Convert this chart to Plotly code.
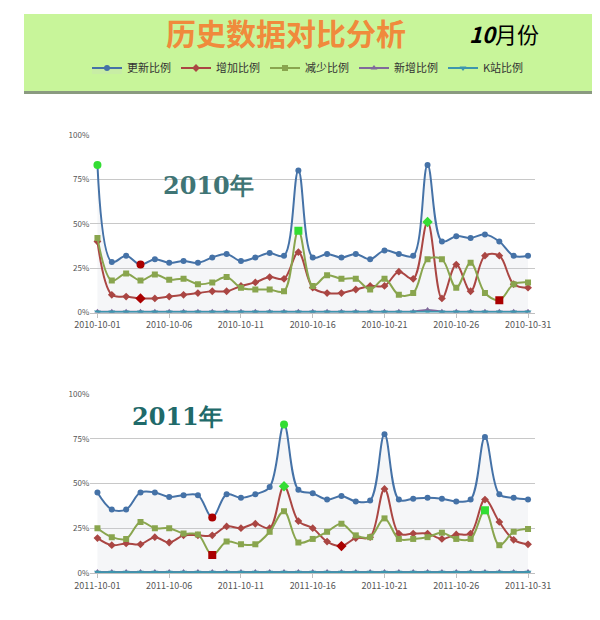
import plotly.graph_objects as go
import pandas as pd

dates10 = pd.date_range("2010-10-01", "2010-10-31").strftime("%Y-%m-%d").tolist()
dates11 = pd.date_range("2011-10-01", "2011-10-31").strftime("%Y-%m-%d").tolist()
names = ["更新比例", "增加比例", "减少比例", "新增比例", "K站比例"]
colors = ["#4572a7", "#aa4643", "#89a54e", "#80699b", "#3d96ae"]
symbols = ["circle", "diamond", "square", "triangle-up", "triangle-down"]
ytickvals = [0, 25, 50, 75, 100]
yticktext = ["0%", "25%", "50%", "75%", "100%"]

upd10 = [83, 28.5, 32, 27, 30, 28, 29, 28, 31, 33, 29, 31, 33.5, 32, 80, 31, 33, 31, 33, 30, 35, 33, 32, 83, 40, 43, 42, 44, 40, 32, 32]
inc10 = [40, 10, 9, 8, 8, 9, 10, 11, 12, 12, 15, 17, 20, 19, 34, 14, 11, 11, 13, 15, 15, 23, 19, 51, 8, 27, 12, 32, 32, 16, 14]
dec10 = [42, 18, 22, 18, 21.5, 18.5, 19, 16, 17, 20, 14, 13, 13, 12, 46, 15, 21, 19, 19, 13, 19, 10, 11, 30, 30, 14, 28, 11, 7, 16, 17]
new10 = [0.5] * 23 + [1.5] + [0.5] * 7
k10 = [0.3] * 31

upd11 = [45, 35.5, 35.5, 45, 45, 42.5, 43.5, 43.5, 31, 44, 42, 44, 48, 83, 46.5, 44.5, 41, 43, 40, 40.5, 77.5, 41, 41.5, 42, 41.5, 40, 41, 76, 44, 42, 41]
inc11 = [19.5, 15.5, 16.5, 16, 20, 17, 21, 21, 21, 26, 25, 27.5, 25, 48.5, 29, 25, 17.5, 15, 19.5, 20, 47, 22, 22, 22, 19, 21.5, 22, 41, 28.5, 18.5, 16]
dec11 = [25, 20, 19, 28.5, 25, 25, 22, 21.5, 10, 17.5, 16, 16, 23, 34.5, 17, 19, 23, 27.5, 21, 20, 30.5, 19, 19, 20, 22.5, 19, 19, 35, 15.5, 23, 24.5]
new11 = [0.5] * 31
k11 = [0.3] * 31

W, H = 600, 620
OX, OY = 8, 8  # page body offset compensation

def px(x):
    return (x - OX) / W

def py(y):
    return 1 - (y - OY) / H

fig = go.Figure()

def add_chart(dates, series, xa, ya, showleg):
    for i, (vals, nm) in enumerate(zip(series, names)):
        fig.add_trace(go.Scatter(
            x=dates, y=vals, name=nm, mode="lines+markers", line_shape="spline",
            line=dict(color=colors[i], width=2),
            marker=dict(symbol=symbols[i], size=6, color=colors[i]),
            fill="tozeroy" if i == 0 else None,
            fillcolor="rgba(200,205,215,0.18)",
            showlegend=showleg, xaxis=xa, yaxis=ya))
    for i in range(3):
        vals = series[i]
        imax = vals.index(max(vals)); imin = vals.index(min(vals))
        fig.add_trace(go.Scatter(x=[dates[imax]], y=[vals[imax]], mode="markers",
                                 marker=dict(symbol=symbols[i], size=8, color="#33dd33"),
                                 showlegend=False, hoverinfo="skip", xaxis=xa, yaxis=ya))
        fig.add_trace(go.Scatter(x=[dates[imin]], y=[vals[imin]], mode="markers",
                                 marker=dict(symbol=symbols[i], size=8, color="#aa0000"),
                                 showlegend=False, hoverinfo="skip", xaxis=xa, yaxis=ya))

add_chart(dates10, [upd10, inc10, dec10, new10, k10], "x", "y", True)
add_chart(dates11, [upd11, inc11, dec11, new11, k11], "x2", "y2", False)

xcommon = dict(domain=[px(78), px(548)], tickformat="%Y-%m-%d", dtick=5*86400000,
               tickfont=dict(size=9, color="#555"), showgrid=False, showline=True,
               linecolor="#c0c0c0", ticks="outside", tickcolor="#c0c0c0", ticklen=4)
ycommon = dict(range=[0, 100], tickvals=ytickvals, ticktext=yticktext, tickmode="array",
               tickfont=dict(size=8, color="#555"), gridcolor="#c8c8c8", zeroline=False)

fig.update_layout(
    width=W, height=H, margin=dict(l=0, r=0, t=0, b=0),
    paper_bgcolor="white", plot_bgcolor="white",
    font=dict(family="Noto Sans CJK SC"),
    xaxis=dict(**xcommon, anchor="y", tick0="2010-10-01", range=["2010-09-30 12:00", "2010-10-31 12:00"]),
    xaxis2=dict(**xcommon, anchor="y2", tick0="2011-10-01", range=["2011-09-30 12:00", "2011-10-31 12:00"]),
    yaxis=dict(**ycommon, domain=[py(312), py(131)], anchor="x"),
    yaxis2=dict(**ycommon, domain=[py(577), py(395)], anchor="x2"),
    legend=dict(orientation="h", x=0.5, xanchor="center", y=py(63), yanchor="middle",
                bgcolor="rgba(0,0,0,0)", font=dict(size=11, color="#333"), itemwidth=30),
    shapes=[
        dict(type="rect", xref="paper", yref="paper", x0=0, x1=1, y0=py(87), y1=1,
             fillcolor="#c8f59a", line_width=0, layer="below"),
        dict(type="line", xref="paper", yref="paper", x0=0, x1=1, y0=py(88), y1=py(88),
             line=dict(color="#8a9a80", width=3)),
    ],
    annotations=[
        dict(text="<b>历史数据对比分析</b>", x=px(285), y=py(26), xref="paper", yref="paper",
             xanchor="center", yanchor="middle",
             showarrow=False, font=dict(size=30, color="#f08a3c", family="Noto Sans CJK SC")),
        dict(text="<b><i>10</i></b>月份", x=px(515), y=py(27), xref="paper", yref="paper",
             xanchor="center", yanchor="middle",
             showarrow=False, font=dict(size=22, color="black", family="Noto Sans CJK SC")),
        dict(text="<b>2010年</b>", x=px(203), y=py(183), xref="paper", yref="paper",
             xanchor="center", yanchor="middle",
             showarrow=False, font=dict(size=24, color="#3f7575", family="DejaVu Serif")),
        dict(text="<b>2011年</b>", x=px(170), y=py(418), xref="paper", yref="paper",
             xanchor="center", yanchor="middle",
             showarrow=False, font=dict(size=24, color="#1f6a6a", family="DejaVu Serif")),
    ],
)

fig.write_html("out.html")
